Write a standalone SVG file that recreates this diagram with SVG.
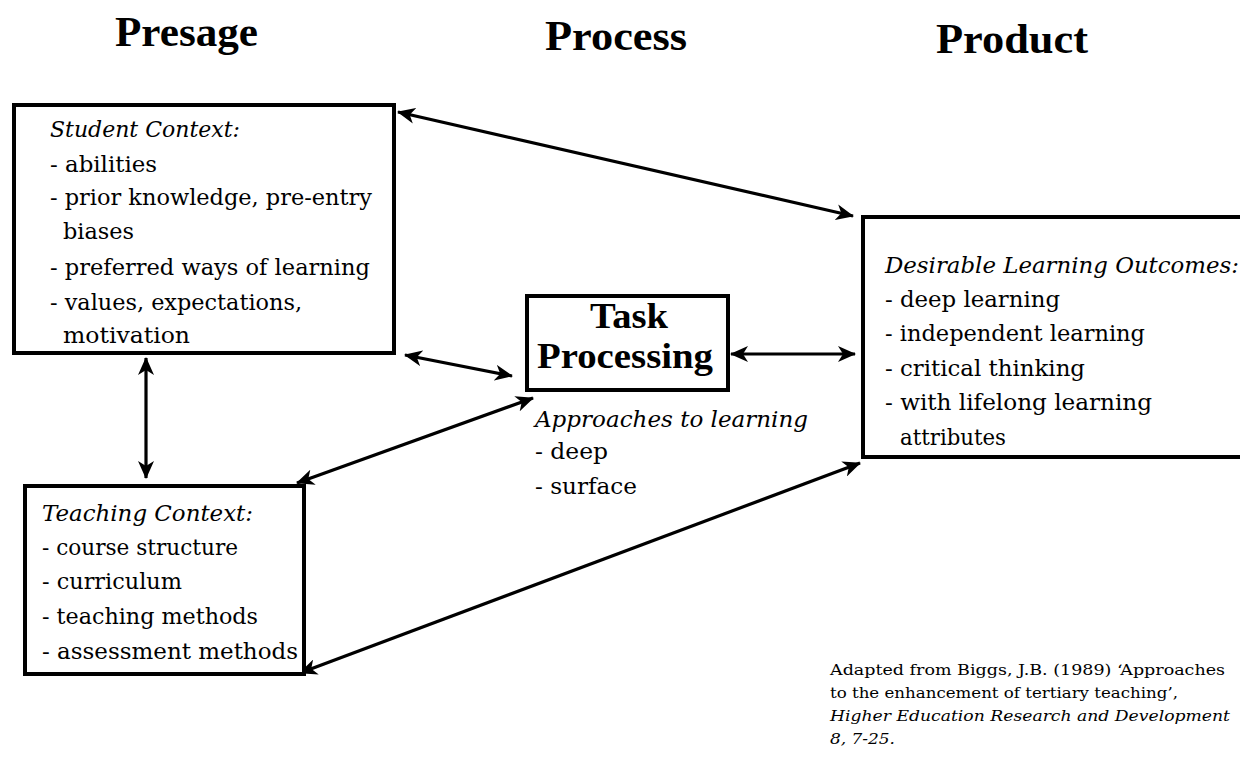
<svg xmlns="http://www.w3.org/2000/svg" width="1240" height="758" viewBox="0 0 1240 758">
<style>
.box{fill:#fff;stroke:#000;stroke-width:4}
.t{font-family:"DejaVu Serif","Liberation Serif",serif;font-size:22px;fill:#000}
.i{font-style:italic}
.h{font-family:"Liberation Serif","Times New Roman",serif;font-weight:bold;font-size:42px;fill:#000}
.tb{font-family:"Liberation Serif","Times New Roman",serif;font-weight:bold;font-size:35px;fill:#000}
.c{font-family:"DejaVu Serif","Liberation Serif",serif;font-size:15px;fill:#000}
.ln{stroke:#000;stroke-width:3.2;fill:none;marker-start:url(#ah);marker-end:url(#ah)}
</style>
<defs>
<marker id="ah" viewBox="0 0 18 16" refX="17" refY="8" markerWidth="18" markerHeight="16" markerUnits="userSpaceOnUse" orient="auto-start-reverse">
<path d="M0,0 L18,8 L0,16 L5,8 z" fill="#000"/>
</marker>
</defs>
<rect width="1240" height="758" fill="#fff"/>
<g id="titles">
<text class="h" x="115" y="46" textLength="143" lengthAdjust="spacingAndGlyphs">Presage</text>
<text class="h" x="545" y="50" textLength="142" lengthAdjust="spacingAndGlyphs">Process</text>
<text class="h" x="936" y="53" textLength="152" lengthAdjust="spacingAndGlyphs">Product</text>
</g>
<g id="connectors">
<line class="ln" x1="398" y1="112" x2="853" y2="216"/>
<line class="ln" x1="146" y1="358" x2="146" y2="478"/>
<line class="ln" x1="405" y1="355" x2="512" y2="376"/>
<line class="ln" x1="533" y1="398" x2="297" y2="483"/>
<line class="ln" x1="300" y1="673" x2="860" y2="463"/>
<line class="ln" x1="731" y1="354" x2="855" y2="354"/>
</g>
<g id="student">
<rect class="box" x="14" y="105" width="380" height="248"/>
<text class="t i" x="50" y="137" textLength="190" lengthAdjust="spacingAndGlyphs">Student Context:</text>
<text class="t" x="50" y="172" textLength="107" lengthAdjust="spacingAndGlyphs">- abilities</text>
<text class="t" x="50" y="205" textLength="322" lengthAdjust="spacingAndGlyphs">- prior knowledge, pre-entry</text>
<text class="t" x="63" y="239" textLength="71" lengthAdjust="spacingAndGlyphs">biases</text>
<text class="t" x="50" y="275" textLength="320" lengthAdjust="spacingAndGlyphs">- preferred ways of learning</text>
<text class="t" x="50" y="310" textLength="252" lengthAdjust="spacingAndGlyphs">- values, expectations,</text>
<text class="t" x="63" y="343" textLength="127" lengthAdjust="spacingAndGlyphs">motivation</text>
</g>
<g id="teaching">
<rect class="box" x="25" y="486" width="279" height="188"/>
<text class="t i" x="42" y="521" textLength="211" lengthAdjust="spacingAndGlyphs">Teaching Context:</text>
<text class="t" x="42" y="555" textLength="196" lengthAdjust="spacingAndGlyphs">- course structure</text>
<text class="t" x="42" y="589" textLength="140" lengthAdjust="spacingAndGlyphs">- curriculum</text>
<text class="t" x="42" y="624" textLength="216" lengthAdjust="spacingAndGlyphs">- teaching methods</text>
<text class="t" x="42" y="659" textLength="256" lengthAdjust="spacingAndGlyphs">- assessment methods</text>
</g>
<g id="task">
<rect class="box" x="527" y="296" width="201" height="94"/>
<text class="tb" x="590" y="328" textLength="78" lengthAdjust="spacingAndGlyphs">Task</text>
<text class="tb" x="537" y="368" textLength="176" lengthAdjust="spacingAndGlyphs">Processing</text>
<text class="t i" x="535" y="427" textLength="273" lengthAdjust="spacingAndGlyphs">Approaches to learning</text>
<text class="t" x="535" y="459" textLength="73" lengthAdjust="spacingAndGlyphs">- deep</text>
<text class="t" x="535" y="494" textLength="102" lengthAdjust="spacingAndGlyphs">- surface</text>
</g>
<g id="outcomes">
<rect class="box" x="863" y="217" width="385" height="240"/>
<text class="t i" x="885" y="273" textLength="354" lengthAdjust="spacingAndGlyphs">Desirable Learning Outcomes:</text>
<text class="t" x="885" y="307" textLength="175" lengthAdjust="spacingAndGlyphs">- deep learning</text>
<text class="t" x="885" y="341" textLength="260" lengthAdjust="spacingAndGlyphs">- independent learning</text>
<text class="t" x="885" y="376" textLength="200" lengthAdjust="spacingAndGlyphs">- critical thinking</text>
<text class="t" x="885" y="410" textLength="267" lengthAdjust="spacingAndGlyphs">- with lifelong learning</text>
<text class="t" x="900" y="445" textLength="106" lengthAdjust="spacingAndGlyphs">attributes</text>
</g>
<g id="citation">
<text class="c" x="830" y="675" textLength="395" lengthAdjust="spacingAndGlyphs">Adapted from Biggs, J.B. (1989) ‘Approaches</text>
<text class="c" x="830" y="698" textLength="348" lengthAdjust="spacingAndGlyphs">to the enhancement of tertiary teaching’,</text>
<text class="c i" x="830" y="721" textLength="400" lengthAdjust="spacingAndGlyphs">Higher Education Research and Development</text>
<text class="c i" x="830" y="744" textLength="65" lengthAdjust="spacingAndGlyphs">8, 7-25.</text>
</g>
</svg>
